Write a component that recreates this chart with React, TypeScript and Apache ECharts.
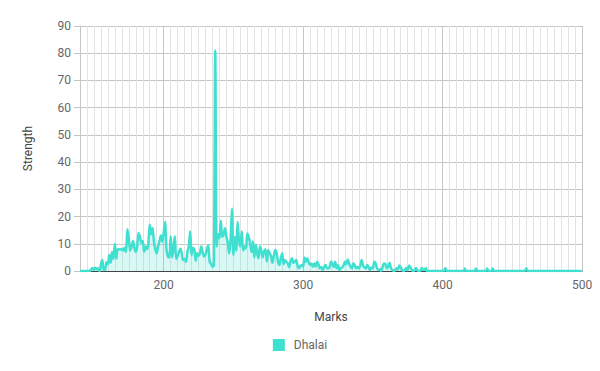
import { useEffect, useRef } from "react";
import * as echarts from "echarts";

const seriesName = "Dhalai";
const xAxisTitle = "Marks";
const yAxisTitle = "Strength";
const xTickLabels = [200, 300, 400, 500];

const marks = [
  140, 144, 147, 148, 149, 150, 151, 152, 153, 154, 155, 156, 157, 158, 159,
  160, 161, 162, 163, 164, 165, 166, 167, 168, 169, 170, 171, 172, 173, 174,
  175, 176, 177, 178, 179, 180, 181, 182, 183, 184, 185, 186, 187, 188, 189,
  190, 191, 192, 193, 194, 195, 196, 197, 198, 199, 200, 201, 202, 203, 204,
  205, 206, 207, 208, 209, 210, 211, 212, 213, 214, 215, 216, 217, 218, 219,
  220, 221, 222, 223, 224, 225, 226, 227, 228, 229, 230, 231, 232, 233, 234,
  235, 236, 237, 238, 239, 240, 241, 242, 243, 244, 245, 246, 247, 248, 249,
  250, 251, 252, 253, 254, 255, 256, 257, 258, 259, 260, 261, 262, 263, 264,
  265, 266, 267, 268, 269, 270, 271, 272, 273, 274, 275, 276, 277, 278, 279,
  280, 281, 282, 283, 284, 285, 286, 287, 288, 289, 290, 291, 292, 293, 294,
  295, 296, 297, 298, 299, 300, 301, 302, 303, 304, 305, 306, 307, 308, 309,
  310, 311, 312, 313, 314, 315, 316, 317, 318, 319, 320, 321, 322, 323, 324,
  325, 326, 327, 328, 329, 330, 331, 332, 333, 334, 335, 336, 337, 338, 339,
  340, 341, 342, 343, 344, 345, 346, 347, 348, 349, 350, 351, 352, 353, 354,
  355, 356, 357, 358, 359, 360, 361, 362, 363, 364, 365, 366, 367, 368, 369,
  370, 371, 372, 373, 374, 375, 376, 377, 378, 379, 380, 381, 382, 383, 384,
  385, 386, 387, 388, 389, 395, 400, 401, 402, 403, 404, 410, 415, 416, 417,
  420, 423, 424, 425, 428, 431, 432, 433, 435, 436, 437, 445, 458, 459, 460,
  461, 462, 480, 500,
];

const strength = [
  0, 0, 0, 0.6, 1.1, 0.4, 1.2, 0.6, 1.0, 0, 2.5, 4, 0.4, 0.5, 3.2,
  2.5, 6, 3, 7, 4.5, 10, 4.5, 8, 8, 7.8, 8.2, 7.5, 8.5, 7, 15.3,
  12, 7.5, 9, 11, 8.5, 7, 9, 14, 12.5, 10.4, 11, 7, 9, 8, 10,
  17, 13.5, 15.8, 11, 8, 6.5, 9, 11, 13, 10.8, 14, 18, 8, 5.5, 5,
  12.8, 5, 8, 12.8, 4.4, 5.5, 7, 8.2, 6.5, 4, 4.4, 3.4, 7, 9, 14.5,
  5.8, 8.5, 8, 3.8, 6.5, 5.5, 6.5, 9, 6.8, 5.3, 6, 8, 9.5, 3.4, 2.6,
  1.6, 2, 81, 9, 13.5, 12, 18.5, 12.5, 13.5, 15.7, 12.5, 10.5, 6.5, 12, 23,
  5.9, 12.5, 7.5, 18.1, 11.5, 9, 14.5, 7.5, 9, 8.3, 13.8, 12.5, 10, 7, 10.8,
  5, 9.6, 6.5, 4.7, 9, 7.5, 5, 7.1, 8, 3.5, 7.7, 6.5, 5.5, 3, 5.5,
  7.7, 6.5, 3.4, 2.2, 4.7, 6.5, 2.5, 4, 3.4, 2.8, 1.5, 3.5, 4.7, 3, 3.4,
  4, 2, 1, 1.8, 2.2, 1.6, 5, 3.4, 4.7, 3, 2.2, 2.8, 1.6, 2.8, 1.6,
  3.4, 2.5, 1, 1.5, 0.4, 1.5, 2.2, 1, 1, 1.5, 3.4, 2.8, 1.5, 3.4, 1,
  2.2, 0.4, 1, 1.3, 2, 3.4, 2.5, 4.2, 2.8, 1.6, 1, 2.8, 2.2, 1, 1.5,
  1, 2, 4, 2, 1.3, 1, 2.2, 1.3, 0.4, 1.3, 1, 3.4, 2.8, 1, 0.4,
  0.6, 0, 1.5, 2.8, 2.6, 1, 1.6, 3, 1, 0.4, 0, 0.3, 1, 0.5, 2,
  1.3, 0.4, 0, 0.3, 1.2, 0.3, 2, 1.2, 0.4, 0, 0.3, 1.1, 0.2, 0, 0,
  1.1, 0.5, 0.4, 1.1, 0, 0, 0, 0, 1, 0, 0, 0, 0, 0.9, 0,
  0, 0, 0.9, 0, 0, 0, 0.9, 0, 0, 0.9, 0, 0, 0, 0, 1,
  0, 0, 0, 0,
];

const FONT = "Roboto, 'Noto Sans', sans-serif";

export default function App() {
  const ref = useRef<HTMLDivElement>(null);

  useEffect(() => {
    if (!ref.current) return;
    const chart = echarts.init(ref.current, null, { renderer: "svg" });
    const vLineColors = Array.from({ length: 20 }, (_, i) =>
      i === 12 ? "#c6c6c6" : "#e3e3e3"
    );
    chart.setOption({
      animation: false,
      textStyle: { fontFamily: FONT },
      grid: { left: 80, right: 18, top: 26, bottom: 100, containLabel: false },
      legend: {
        data: [seriesName],
        left: "center",
        top: 334,
        icon: "rect",
        itemWidth: 12,
        itemHeight: 12,
        textStyle: { color: "#666", fontSize: 12, fontFamily: FONT, padding: [0, 0, 0, 4] },
      },
      xAxis: {
        type: "value",
        min: 140,
        max: 500,
        interval: 5,
        name: xAxisTitle,
        nameLocation: "middle",
        nameGap: 40,
        nameTextStyle: { color: "#444", fontSize: 12, fontFamily: FONT },
        axisLine: { show: true, lineStyle: { color: "#444", width: 1 } },
        axisTick: { show: false },
        axisLabel: {
          color: "#666",
          fontSize: 12,
          fontFamily: FONT,
          margin: 8,
          formatter: (v: number) =>
            xTickLabels.includes(Math.round(v)) ? String(Math.round(v)) : "",
        },
        splitLine: { show: true, lineStyle: { color: vLineColors, width: 1 } },
      },
      yAxis: {
        type: "value",
        min: 0,
        max: 90,
        interval: 10,
        name: yAxisTitle,
        nameLocation: "middle",
        nameGap: 46,
        nameRotate: 90,
        nameTextStyle: { color: "#444", fontSize: 12, fontFamily: FONT },
        axisLine: { show: true, lineStyle: { color: "#c6c6c6" } },
        axisTick: { show: true, length: 6, lineStyle: { color: "#c6c6c6" } },
        axisLabel: { color: "#666", fontSize: 12, fontFamily: FONT, margin: 9 },
        splitLine: { show: true, lineStyle: { color: "#c6c6c6", width: 1 } },
      },
      series: [
        {
          name: seriesName,
          type: "line",
          data: marks.map((m, i) => [m, strength[i]]),
          smooth: 0.3,
          showSymbol: false,
          symbol: "circle",
          lineStyle: { color: "#40E0D0", width: 2.5 },
          itemStyle: { color: "#40E0D0" },
          areaStyle: { color: "rgba(64,224,208,0.3)" },
        },
      ],
    });
    return () => chart.dispose();
  }, []);

  return (
    <div
      ref={ref}
      style={{ position: "absolute", left: 0, top: 0, width: 600, height: 371 }}
    />
  );
}
